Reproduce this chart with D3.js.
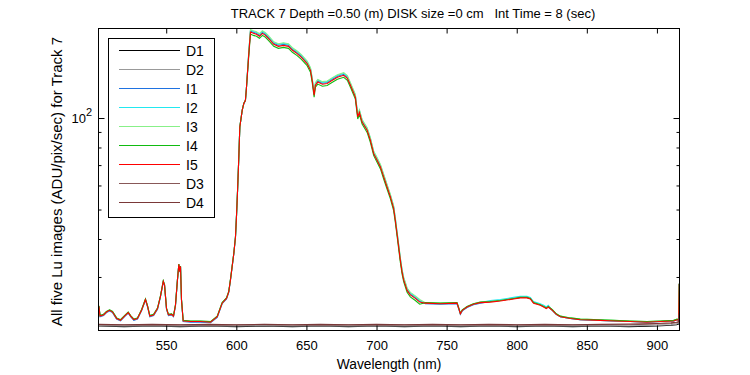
<!DOCTYPE html>
<html><head><meta charset="utf-8">
<script src="https://cdn.jsdelivr.net/npm/d3@7"></script>
<style>
body{margin:0;background:#fff;}
text{font-family:"Liberation Sans",Arial,sans-serif;fill:#000;white-space:pre;}
</style></head>
<body><svg id="c" width="750" height="375"></svg>
<script>
// ---- data ----
const wavelength = [502.0,502.8,505.3,507.4,509.6,511.7,514.6,517.4,520.3,522.9,524.6,526.9,529.5,532.4,535.2,536.7,538.3,541.0,543.8,545.9,547.9,548.8,550.2,551.6,553.8,555.2,556.6,558.0,559.0,559.7,560.2,560.9,562.1,567.3,574.4,581.6,586.4,589.9,593.0,594.6,595.8,597.0,598.2,599.4,600.1,600.8,601.7,602.5,604.2,605.3,606.5,607.2,608.9,610.1,612.2,614.4,616.5,618.6,620.8,622.9,626.7,630.0,633.6,637.2,640.0,643.4,646.4,650.5,652.9,654.1,655.5,656.4,658.1,661.4,664.8,668.5,672.1,676.6,679.2,681.4,684.9,686.6,687.8,689.7,693.3,695.6,698.0,700.4,702.8,705.1,707.5,709.9,712.2,713.4,714.6,715.8,717.0,718.2,719.4,720.6,721.8,724.1,727.7,730.8,734.8,745.5,757.4,758.7,759.8,761.2,764.6,769.1,774.1,781.2,788.3,797.8,802.5,807.3,809.7,812.0,816.8,819.2,821.1,822.5,825.4,828.2,831.1,838.2,845.3,859.6,869.1,881.0,892.9,902.4,911.9,914.4,915.5,915.9];

const I1 = [23.9,22.2,22.4,22.9,23.2,22.9,21.8,21.5,22.2,22.8,22.2,21.6,21.8,23.2,25.2,23.9,22.2,22.4,23.5,25.8,28.9,28.1,23.5,22.4,22.5,22.2,24.1,29.2,32.9,31.1,32.4,25.1,21.4,21.3,21.3,21.2,22.1,24.5,25.4,26.7,29.2,32.3,35.7,40.5,47.2,56.3,72.5,93.3,105.9,111.4,114.2,125.1,
164.1,193.3,191.4,190.0,187.2,191.4,188.6,184.3,176.1,173.5,174.8,173.5,168.3,164.1,159.7,152.2,144.6,134.2,119.8,129.1,132.4,130.1,130.8,134.2,137.2,139.3,136.2,129.1,118.1,101.6,105.2,97.8,91.8,85.2,76.9,73.2,69.6,64.5,59.8,55.4,50.8,46.5,42.0,38.0,34.3,31.4,29.5,28.4,27.3,26.4,25.7,25.0,
24.5,24.4,24.5,23.5,22.6,23.2,23.8,24.3,24.6,24.9,25.1,25.5,25.7,25.7,25.5,24.7,24.3,24.0,23.7,23.9,23.3,22.6,22.2,21.9,21.7,21.6,21.5,21.4,21.3,21.4,21.5,21.7,21.6,28.5];

const I2 = [24.0,22.3,22.5,23.0,23.3,23.0,21.9,21.6,22.3,22.9,22.3,21.7,21.9,23.3,25.3,24.0,22.3,22.5,23.6,25.9,29.0,28.2,23.6,22.5,22.6,22.3,24.2,29.3,33.0,31.2,32.5,25.2,21.5,21.4,21.4,21.3,22.2,24.6,25.5,26.8,29.3,32.4,35.8,40.6,47.3,56.4,72.6,93.4,106.0,111.5,114.3,125.2,
165.2,194.7,192.7,191.3,188.5,192.7,189.9,185.5,177.3,174.7,176.0,174.7,169.5,165.2,160.8,153.3,145.7,135.1,120.6,130.0,133.3,131.0,131.7,135.1,138.1,140.3,137.1,130.0,119.0,102.3,106.0,98.5,92.5,85.8,77.4,73.7,70.0,65.0,60.2,55.8,51.2,46.8,42.3,38.3,34.5,31.7,29.7,28.6,27.5,26.6,25.8,25.1,
24.6,24.5,24.6,23.6,22.7,23.3,23.9,24.4,24.7,25.1,25.3,25.7,25.9,25.9,25.7,24.9,24.5,24.2,23.9,24.2,23.3,22.6,22.2,21.9,21.7,21.6,21.5,21.4,21.3,21.4,21.5,21.7,21.6,28.5];

const I3 = [24.1,22.4,22.6,23.1,23.4,23.1,22.0,21.7,22.4,23.0,22.4,21.8,22.0,23.4,25.4,24.1,22.4,22.6,23.7,26.0,29.1,28.3,23.7,22.6,22.7,22.4,24.3,29.4,33.1,31.3,32.6,25.3,21.6,21.5,21.5,21.4,22.3,24.7,25.6,26.9,29.4,32.5,35.9,40.7,47.4,56.5,72.7,93.5,106.1,111.6,114.4,125.3,
166.1,195.6,193.7,192.3,189.4,193.7,190.8,186.5,178.2,175.5,176.9,175.5,170.3,166.1,161.6,154.0,146.4,135.8,121.2,130.7,133.9,131.7,132.4,135.8,138.8,141.0,137.8,130.7,119.5,102.8,106.5,98.9,92.9,86.2,77.8,74.1,70.4,65.3,60.5,56.1,51.4,47.0,42.5,38.5,34.7,31.8,29.9,28.8,27.6,26.7,26.0,25.3,
24.7,24.6,24.7,23.7,22.8,23.4,24.0,24.5,24.8,24.9,25.1,25.5,25.7,25.7,25.5,24.7,24.3,24.0,23.7,24.0,23.4,22.7,22.3,22.0,21.8,21.7,21.6,21.5,21.4,21.5,21.6,21.8,21.7,28.5];

const I4 = [24.1,22.4,22.6,23.1,23.4,23.1,22.0,21.7,22.4,23.0,22.4,21.8,22.0,23.4,25.4,24.1,22.4,22.6,23.7,26.0,29.1,28.3,23.7,22.6,22.7,22.4,24.3,29.4,33.1,31.3,32.6,25.3,21.6,21.5,21.5,21.4,22.3,24.7,25.6,26.9,29.4,32.5,35.9,40.7,47.4,56.5,72.7,93.5,106.1,111.6,114.4,125.3,
160.4,188.9,187.0,185.7,182.9,187.0,184.3,180.1,172.1,169.5,170.8,169.5,164.5,160.4,156.0,148.7,141.3,131.1,117.0,126.2,129.3,127.2,127.9,131.1,134.1,136.1,133.1,126.2,115.4,99.3,102.8,95.5,89.7,83.2,75.2,71.5,68.0,63.0,58.4,54.2,49.6,45.4,41.1,37.1,33.5,30.7,28.9,27.8,26.7,25.8,25.1,24.4,
24.7,24.6,24.7,23.7,22.8,23.4,24.0,24.5,24.8,24.9,25.1,25.5,25.7,25.7,25.5,24.7,24.3,24.0,23.7,24.0,23.4,22.7,22.3,22.0,21.8,21.7,21.6,21.5,21.4,21.5,21.6,21.8,21.7,28.5];

const I5 = [24.0,22.3,22.5,23.0,23.3,23.0,21.9,21.6,22.3,22.9,22.3,21.7,21.9,23.3,25.3,24.0,22.3,22.5,23.6,25.9,29.0,28.2,23.6,22.5,22.6,22.3,24.2,29.3,33.0,31.2,32.5,25.2,21.5,21.4,21.4,21.3,22.2,24.6,25.5,26.8,29.3,32.4,35.8,40.6,47.3,56.4,72.6,93.4,106.0,111.5,114.3,125.2,
162.8,191.8,189.9,188.5,185.7,189.9,187.1,182.8,174.7,172.1,173.4,172.1,167.0,162.8,158.4,151.0,143.5,133.1,118.8,128.1,131.3,129.1,129.8,133.1,136.1,138.2,135.1,128.1,117.2,100.8,104.4,97.0,91.1,84.5,76.3,72.6,69.0,64.0,59.3,55.0,50.4,46.1,41.7,37.7,34.0,31.2,29.3,28.2,27.1,26.2,25.5,24.8,
24.6,24.5,24.6,23.6,22.7,23.3,23.9,24.4,24.7,24.8,25.0,25.4,25.6,25.6,25.4,24.6,24.2,23.9,23.6,23.9,23.3,22.6,22.2,21.9,21.7,21.6,21.5,21.4,21.3,21.4,21.5,21.7,21.6,28.5];

const darkWavelength = [502,520,540,560,580,600,620,640,660,680,700,720,740,760,780,800,820,840,860,880,900,910,914,915.5,915.9];
const D1 = [20.7,20.6,20.7,20.6,20.7,20.6,20.7,20.6,20.7,20.6,20.7,20.6,20.7,20.6,20.7,20.6,20.7,20.6,20.7,20.6,20.7,20.8,20.9,21.0,21.2];
const D2 = [20.75,20.7,20.75,20.7,20.75,20.7,20.75,20.7,20.75,20.7,20.75,20.7,20.75,20.7,20.75,20.7,20.75,20.7,20.75,20.7,20.8,20.9,21.0,21.2,24.3];
const D3 = [20.9,20.85,20.9,20.85,20.9,20.85,20.9,20.85,20.9,20.85,20.9,20.85,20.9,20.85,20.9,20.85,20.9,20.85,20.9,20.9,21.0,21.1,21.2,21.3,22.5];
const D4 = [20.95,20.9,20.95,20.9,20.95,20.9,20.95,20.9,20.95,20.9,20.95,20.9,20.95,20.9,20.95,20.9,20.95,20.9,20.95,21.0,21.1,21.2,21.3,21.4,22.8];

const seriesNames = ["D1","D2","I1","I2","I3","I4","I5","D3","D4"];
const seriesColors = ["#000000","#999999","#1f72e0","#22e8f0","#88f088","#11bb11","#ff0000","#885858","#7a3838"];
const xTickValues = [550,600,650,700,750,800,850,900];
const yMinorTicks = [30,40,50,60,70,80,90];
const titleText = "TRACK 7 Depth =0.50 (m) DISK size =0 cm   Int Time = 8 (sec)";
const xLabelText = "Wavelength (nm)";
const yLabelText = "All five Lu images (ADU/pix/sec) for Track 7";

// ---- chart ----
const svg = d3.select("#c");
const L = 98.5, R = 679.5, T = 28.5, B = 330.5;
const x = d3.scaleLinear().domain([501.7, 916.1]).range([L, R]);
const y = d3.scaleLog().domain([20, 197]).range([B, T]);

svg.append("clipPath").attr("id","clip").append("rect")
  .attr("x", L).attr("y", T).attr("width", R-L).attr("height", B-T);

const seriesData = {
  D1: darkWavelength.map((w,i)=>[w,D1[i]]),
  D2: darkWavelength.map((w,i)=>[w,D2[i]]),
  I1: wavelength.map((w,i)=>[w,I1[i]]),
  I2: wavelength.map((w,i)=>[w,I2[i]]),
  I3: wavelength.map((w,i)=>[w,I3[i]]),
  I4: wavelength.map((w,i)=>[w,I4[i]]),
  I5: wavelength.map((w,i)=>[w,I5[i]]),
  D3: darkWavelength.map((w,i)=>[w,D3[i]]),
  D4: darkWavelength.map((w,i)=>[w,D4[i]])
};
const line = d3.line().x(d=>x(d[0])).y(d=>y(d[1]));
const g = svg.append("g").attr("clip-path","url(#clip)");
seriesNames.forEach((n,i)=>{
  g.append("path").datum(seriesData[n]).attr("d", line)
    .attr("fill","none").attr("stroke", seriesColors[i]).attr("stroke-width",1.1);
});

// frame
svg.append("rect").attr("x",L).attr("y",T).attr("width",R-L).attr("height",B-T)
  .attr("fill","none").attr("stroke","#000").attr("stroke-width",1);

// x axis (bottom) ticks inward + labels
const xb = d3.axisBottom(x).tickValues(xTickValues).tickSize(-5).tickPadding(10).tickFormat(d3.format("d"));
const gxb = svg.append("g").attr("transform",`translate(0,${B})`).call(xb);
gxb.select(".domain").remove();
gxb.selectAll("text").style("font-size","13px").style("font-family","Liberation Sans, Arial, sans-serif");
const xt = d3.axisTop(x).tickValues(xTickValues).tickSize(-5).tickFormat("");
const gxt = svg.append("g").attr("transform",`translate(0,${T})`).call(xt);
gxt.select(".domain").remove();

// y axis ticks
const yl = d3.axisLeft(y).tickValues([100]).tickSize(-6).tickFormat("");
const gyl = svg.append("g").attr("transform",`translate(${L},0)`).call(yl); gyl.select(".domain").remove();
const ylm = d3.axisLeft(y).tickValues(yMinorTicks).tickSize(-3).tickFormat("");
const gylm = svg.append("g").attr("transform",`translate(${L},0)`).call(ylm); gylm.select(".domain").remove();
const yr = d3.axisRight(y).tickValues([100]).tickSize(-6).tickFormat("");
const gyr = svg.append("g").attr("transform",`translate(${R},0)`).call(yr); gyr.select(".domain").remove();
const yrm = d3.axisRight(y).tickValues(yMinorTicks).tickSize(-3).tickFormat("");
const gyrm = svg.append("g").attr("transform",`translate(${R},0)`).call(yrm); gyrm.select(".domain").remove();
svg.selectAll(".tick line").attr("stroke","#000");

// 10^2 label
const lab = svg.append("text").attr("x", L-27).attr("y", y(100)+4.5).style("font-size","13px");
lab.append("tspan").text("10");
lab.append("tspan").attr("dy",-7).style("font-size","11px").text("2");

// title, labels
svg.append("text").attr("x",413).attr("y",18).attr("text-anchor","middle").style("font-size","13px").text(titleText);
svg.append("text").attr("x",(L+R)/2).attr("y",369).attr("text-anchor","middle").style("font-size","13.8px").text(xLabelText);
svg.append("text").attr("transform",`translate(62,181.5) rotate(-90)`).attr("text-anchor","middle").style("font-size","15px").text(yLabelText);

// legend
svg.append("rect").attr("x",108.5).attr("y",38.5).attr("width",106).attr("height",179)
  .attr("fill","#fff").attr("stroke","#000").attr("stroke-width",1);
seriesNames.forEach((n,i)=>{
  const yy = 50.5 + i*19;
  svg.append("line").attr("x1",119).attr("x2",180).attr("y1",yy).attr("y2",yy)
    .attr("stroke",seriesColors[i]).attr("stroke-width",1);
  svg.append("text").attr("x",186).attr("y",yy+5).style("font-size","14px").text(n);
});
</script></body></html>
